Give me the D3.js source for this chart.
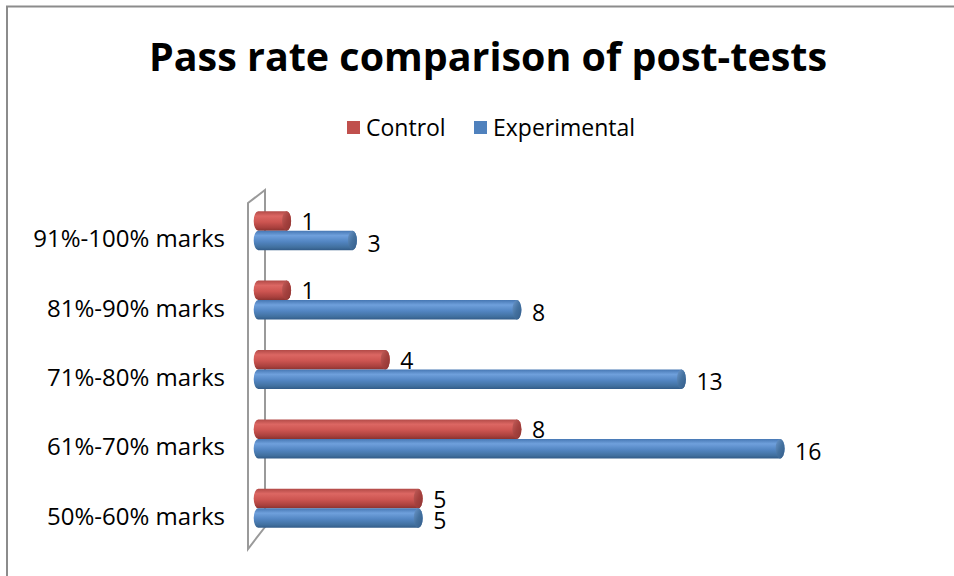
<!DOCTYPE html>
<html>
<head>
<meta charset="utf-8">
<script src="https://cdn.jsdelivr.net/npm/d3@7/dist/d3.min.js"></script>
<style>
  html, body { margin: 0; padding: 0; background: #fff; }
  svg { display: block; }
  text { font-family: "Open Sans", "DejaVu Sans", sans-serif; fill: #000; }
</style>
</head>
<body>
<script>
// Score bands, top to bottom as drawn
const categories = ["91%-100% marks", "81%-90% marks", "71%-80% marks", "61%-70% marks", "50%-60% marks"];
const controlValues = [1, 1, 4, 8, 5];
const experimentalValues = [3, 8, 13, 16, 5];
const seriesNames = ["Control", "Experimental"];
const seriesColors = ["#C0504D", "#4F81BD"];
const titleText = "Pass rate comparison of post-tests";

const W = 954, H = 576;
const svg = d3.select("body").append("svg").attr("width", W).attr("height", H);

// Cylinder shading gradients
const defs = svg.append("defs");
const shades = {
  Control: { body: ["#b24a47", "#dc6763", "#cd5551", "#a8403d", "#8a3330"], cap: ["#c2605c", "#a5413e", "#8d3532"] },
  Experimental: { body: ["#4677b3", "#6fa0dc", "#5386c3", "#41709f", "#325b88"], cap: ["#6d98cc", "#44719f", "#345d8a"] }
};
Object.entries(shades).forEach(([name, s]) => {
  const g = defs.append("linearGradient").attr("id", "body-" + name)
    .attr("x1", 0).attr("y1", 0).attr("x2", 0).attr("y2", 1);
  [0, 0.25, 0.55, 0.85, 1].forEach((o, i) => g.append("stop").attr("offset", o).attr("stop-color", s.body[i]));
  const c = defs.append("linearGradient").attr("id", "cap-" + name)
    .attr("x1", 0).attr("y1", 0).attr("x2", 1).attr("y2", 1);
  [0, 0.5, 1].forEach((o, i) => c.append("stop").attr("offset", o).attr("stop-color", s.cap[i]));
});

// Outer frame (left and top edges)
svg.append("path")
  .attr("d", `M7,${H} L7,6.5 L${W},6.5`)
  .attr("fill", "none").attr("stroke", "#8c8c8c").attr("stroke-width", 2);

// Title
svg.append("text")
  .attr("x", 488).attr("y", 71)
  .attr("text-anchor", "middle")
  .attr("font-size", 40).attr("font-weight", 700)
  .attr("textLength", 678).attr("lengthAdjust", "spacingAndGlyphs")
  .text(titleText);

// Legend
const legendItems = [
  { name: seriesNames[0], color: seriesColors[0], x: 347 },
  { name: seriesNames[1], color: seriesColors[1], x: 474 }
];
const lg = svg.append("g").selectAll("g").data(legendItems).join("g")
  .attr("transform", d => `translate(${d.x},121)`);
lg.append("rect").attr("width", 13).attr("height", 13).attr("fill", d => d.color);
lg.append("text").attr("x", 19).attr("y", 7).attr("dy", "0.35em")
  .attr("font-size", 23).text(d => d.name);

// Scales
const x = d3.scaleLinear().domain([0, 16]).range([253.7, 780.1]);
const y = d3.scaleBand().domain(categories).range([196, 543]).padding(0);
const barH = 19.5;
const capRx = 4.5;

// Floor/wall of the 3D plot area
svg.append("path")
  .attr("d", "M248,203 L265,190 L265,527 L248,549 Z")
  .attr("fill", "none").attr("stroke", "#9a9a9a").attr("stroke-width", 2);

// Category axis labels
svg.append("g").selectAll("text").data(categories).join("text")
  .attr("x", 225)
  .attr("y", d => y(d) + y.bandwidth() / 2 + 8)
  .attr("dy", "0.35em")
  .attr("text-anchor", "end")
  .attr("font-size", 24)
  .text(d => d);

// Bar records
const bars = [];
categories.forEach((c, i) => {
  const mid = y(c) + y.bandwidth() / 2;
  bars.push({ cat: c, series: "Control", value: controlValues[i], top: mid - barH, shift: 1 });
  bars.push({ cat: c, series: "Experimental", value: experimentalValues[i], top: mid, shift: 3 });
});

// Horizontal cylinder: rounded back end at x(0), flat body, elliptical front face at x(value)
function cylinderPath(d) {
  const x0 = x(0) + capRx, x1 = x(d.value), t = d.top, b = d.top + barH, ry = barH / 2;
  return `M${x0},${t} L${x1},${t} A${capRx},${ry} 0 0 1 ${x1},${b} L${x0},${b} A${capRx},${ry} 0 0 1 ${x0},${t} Z`;
}

const bg = svg.append("g").selectAll("g").data(bars).join("g");
bg.append("path")
  .attr("d", cylinderPath)
  .attr("fill", d => `url(#body-${d.series})`);
bg.append("ellipse")
  .attr("cx", d => x(d.value))
  .attr("cy", d => d.top + barH / 2)
  .attr("rx", capRx).attr("ry", barH / 2)
  .attr("fill", d => `url(#cap-${d.series})`);

// Value labels
svg.append("g").selectAll("text").data(bars).join("text")
  .attr("x", d => x(d.value) + 15)
  .attr("y", d => d.top + barH / 2 + d.shift)
  .attr("dy", "0.35em")
  .attr("font-size", 23)
  .text(d => d.value);
</script>
</body>
</html>
